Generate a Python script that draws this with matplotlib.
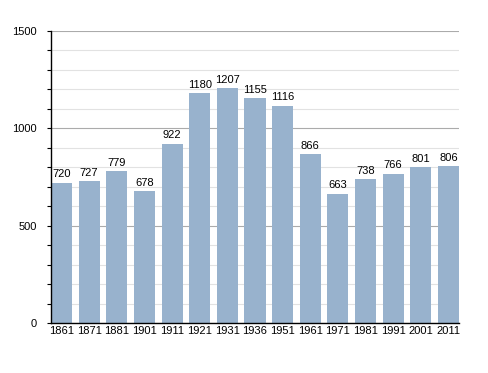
import numpy as np
import matplotlib
matplotlib.use("Agg")
import matplotlib.pyplot as plt
from matplotlib.ticker import MultipleLocator

plt.rcParams["font.family"] = ["Liberation Sans", "DejaVu Sans"]

years = ["1861", "1871", "1881", "1901", "1911", "1921", "1931", "1936",
         "1951", "1961", "1971", "1981", "1991", "2001", "2011"]
population = [720, 727, 779, 678, 922, 1180, 1207, 1155, 1116, 866,
              663, 738, 766, 801, 806]

fig = plt.figure(figsize=(4.88, 3.73), dpi=100)
ax = fig.add_axes([51 / 488, 1 - 323 / 373, 408 / 488, 292 / 373])

x = np.arange(len(years))
w = 0.76
ax.bar(x, population, width=w, color="#98b2cd", zorder=2)
for xi, v in zip(x, population):
    ax.text(xi, v + 18, str(v), ha="center", va="bottom", fontsize=8, zorder=3)

ax.set_xlim(-w / 2, len(years) - 1 + w / 2)
ax.set_ylim(0, 1500)
ax.yaxis.set_major_locator(MultipleLocator(500))
ax.yaxis.set_minor_locator(MultipleLocator(100))
ax.grid(axis="y", which="major", color="#ababab", linewidth=0.8, zorder=0)
ax.grid(axis="y", which="minor", color="#e2e2e2", linewidth=0.8, zorder=0)
ax.set_axisbelow(True)

ax.set_xticks(x)
ax.set_xticklabels(years, fontsize=8)
ax.tick_params(axis="x", length=0, pad=2)
ax.tick_params(axis="y", which="major", length=3, width=0.8, labelsize=8, pad=7)
ax.tick_params(axis="y", which="minor", length=3, width=0.8, direction="out")

for s in ["top", "right"]:
    ax.spines[s].set_visible(False)
ax.spines["left"].set_linewidth(1.0)
ax.spines["bottom"].set_linewidth(1.0)

fig.savefig("out.png", dpi=100)
